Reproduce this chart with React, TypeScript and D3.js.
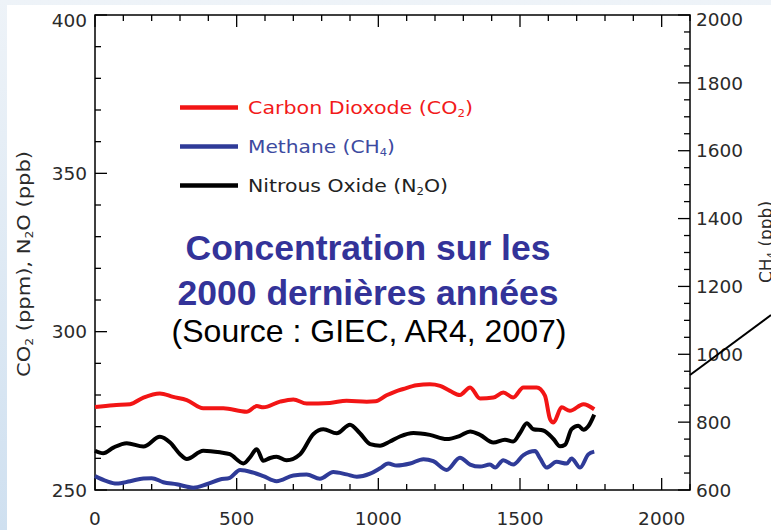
import React from "react";
import * as d3 from "d3";

const W = 771;
const H = 530;

const co2Data: [number, number][] = [
  [0, 276.2], [65, 276.8], [124, 277.1], [171, 279.2], [229, 280.5], [276, 279.4], [324, 278.4],
  [382, 275.8], [453, 275.8], [535, 274.7], [571, 276.5], [594, 276.1], [653, 277.9], [700, 278.6],
  [747, 277.3], [829, 277.5], [888, 278.2], [959, 277.9], [990, 278.0], [1029, 279.9], [1060, 281.1],
  [1088, 281.9], [1135, 283.1], [1182, 283.4], [1218, 282.9], [1253, 281.3], [1288, 280.0],
  [1324, 282.4], [1359, 278.9], [1406, 279.2], [1441, 280.8], [1476, 279.2], [1512, 282.4],
  [1559, 282.4], [1588, 279.8], [1606, 272.4], [1618, 271.3], [1647, 276.1], [1676, 275.0],
  [1724, 277.1], [1762, 275.5],
];

const ch4Data: [number, number][] = [
  [0, 641], [41, 626], [76, 619], [124, 626], [171, 634], [200, 635], [241, 623], [288, 617],
  [347, 607], [394, 617], [441, 631], [476, 636], [512, 659], [559, 651], [594, 641], [641, 626],
  [700, 643], [747, 646], [794, 633], [841, 653], [888, 646], [924, 639], [971, 648], [1006, 664],
  [1035, 678], [1065, 672], [1112, 678], [1159, 691], [1194, 685], [1241, 659], [1288, 695],
  [1324, 675], [1359, 669], [1394, 675], [1412, 666], [1441, 688], [1476, 675], [1512, 703],
  [1553, 715], [1571, 693], [1594, 666], [1629, 683], [1665, 678], [1682, 693], [1712, 666],
  [1741, 705], [1762, 713],
];

const n2oData: [number, number][] = [
  [0, 262.4], [29, 261.6], [65, 263.4], [112, 264.8], [171, 263.7], [229, 266.8], [265, 265.0],
  [300, 261.3], [324, 259.8], [382, 262.4], [441, 261.9], [476, 261.3], [524, 258.4], [547, 260.3],
  [571, 262.9], [594, 259.2], [618, 260.1], [641, 260.5], [676, 259.4], [724, 261.3], [771, 267.7],
  [806, 269.2], [853, 267.9], [900, 270.6], [935, 267.9], [971, 264.5], [1006, 264.0], [1041, 265.3],
  [1076, 266.9], [1124, 268.0], [1182, 267.4], [1241, 266.1], [1288, 267.1], [1324, 268.5],
  [1359, 267.4], [1406, 265.0], [1447, 265.9], [1476, 265.3], [1500, 268.0], [1524, 271.1],
  [1547, 269.2], [1582, 268.8], [1618, 266.1], [1641, 263.8], [1659, 264.3], [1682, 269.2],
  [1706, 270.3], [1724, 269.0], [1741, 270.1], [1762, 273.8],
];

const xMajorTicks = [0, 500, 1000, 1500, 2000];
const leftMajorTicks = [250, 300, 350, 400];
const rightMajorTicks = [600, 800, 1000, 1200, 1400, 1600, 1800, 2000];

const legendItems = [
  { label: "Carbon Dioxode (CO", sub: "2", color: "#f21515", text: "#f21a1a", width: 225 },
  { label: "Methane (CH", sub: "4", color: "#2f3b98", text: "#3d4aa0", width: 147 },
  { label: "Nitrous Oxide (N", sub: "2", tail: "O)", color: "#000000", text: "#222222", width: 200 },
];

const titleLines = ["Concentration sur les", "2000 dernières années"];
const sourceLine = "(Source : GIEC, AR4, 2007)";

const M = { left: 95, right: 690, top: 15, bottom: 490 };
const FONT = "'DejaVu Sans', sans-serif";

export default function App() {
  const x = d3.scaleLinear().domain([0, 2100]).range([M.left, M.right]);
  const yL = d3.scaleLinear().domain([250, 400]).range([M.bottom, M.top]);
  const yR = d3.scaleLinear().domain([600, 2000]).range([M.bottom, M.top]);

  const lineL = d3
    .line<[number, number]>()
    .x((d) => x(d[0]))
    .y((d) => yL(d[1]))
    .curve(d3.curveMonotoneX);
  const lineR = d3
    .line<[number, number]>()
    .x((d) => x(d[0]))
    .y((d) => yR(d[1]))
    .curve(d3.curveMonotoneX);

  const xMinor = d3.range(0, 2101, 100);
  const leftMinor = d3.range(250, 401, 10);
  const rightMinor = d3.range(600, 2001, 50);

  const tickColor = "#000";
  const labelColor = "#2a2a2a";

  return (
    <svg
      width={W}
      height={H}
      style={{ position: "absolute", left: 0, top: 0, display: "block" }}
      xmlns="http://www.w3.org/2000/svg"
    >
      <defs>
        <linearGradient id="bg" x1="0" y1="0" x2="0" y2="1">
          <stop offset="0" stopColor="#eef3f8" />
          <stop offset="1" stopColor="#cfe0f0" />
        </linearGradient>
      </defs>
      <rect x={0} y={0} width={W} height={H} fill="url(#bg)" />
      <rect x={7} y={5} width={W - 7} height={H - 5} fill="#ffffff" />

      {/* frame */}
      <rect
        x={M.left}
        y={M.top}
        width={M.right - M.left}
        height={M.bottom - M.top}
        fill="none"
        stroke={tickColor}
        strokeWidth={1.5}
      />

      {/* x ticks bottom and top */}
      {xMinor.map((t) => {
        const major = xMajorTicks.includes(t);
        const len = major ? 12 : 6;
        return (
          <g key={"x" + t}>
            <line x1={x(t)} x2={x(t)} y1={M.bottom} y2={M.bottom - len} stroke={tickColor} strokeWidth={1.3} />
            <line x1={x(t)} x2={x(t)} y1={M.top} y2={M.top + len} stroke={tickColor} strokeWidth={1.3} />
          </g>
        );
      })}
      {xMajorTicks.map((t) => (
        <text
          key={"xl" + t}
          x={x(t)}
          y={525}
          textAnchor="middle"
          fontFamily={FONT}
          fontSize={18.5}
          fill={labelColor}
        >
          {t}
        </text>
      ))}

      {/* left ticks */}
      {leftMinor.map((t) => {
        const major = leftMajorTicks.includes(t);
        return (
          <line
            key={"l" + t}
            x1={M.left}
            x2={M.left + (major ? 12 : 6)}
            y1={yL(t)}
            y2={yL(t)}
            stroke={tickColor}
            strokeWidth={1.3}
          />
        );
      })}
      {leftMajorTicks.map((t) => (
        <text
          key={"ll" + t}
          x={87}
          y={yL(t) + (t === 400 ? 5 : 0)}
          dy="0.36em"
          textAnchor="end"
          fontFamily={FONT}
          fontSize={18.5}
          fill={labelColor}
        >
          {t}
        </text>
      ))}

      {/* right ticks */}
      {rightMinor.map((t) => {
        const major = rightMajorTicks.includes(t);
        return (
          <line
            key={"r" + t}
            x1={M.right}
            x2={M.right - (major ? 12 : 6)}
            y1={yR(t)}
            y2={yR(t)}
            stroke={tickColor}
            strokeWidth={1.3}
          />
        );
      })}
      {rightMajorTicks.map((t) => (
        <text
          key={"rl" + t}
          x={696}
          y={yR(t) + (t === 2000 ? 4 : 0)}
          dy="0.36em"
          textAnchor="start"
          fontFamily={FONT}
          fontSize={18.5}
          fill={labelColor}
        >
          {t}
        </text>
      ))}

      {/* axis titles */}
      <text
        transform={`translate(30,${264}) rotate(-90)`}
        textAnchor="middle"
        fontFamily={FONT}
        fontSize={17}
        fill={labelColor}
        textLength={226}
        lengthAdjust="spacingAndGlyphs"
      >
        CO<tspan fontSize={10} dy={3}>2</tspan>
        <tspan dy={-3}> (ppm), N</tspan>
        <tspan fontSize={10} dy={3}>2</tspan>
        <tspan dy={-3}>O (ppb)</tspan>
      </text>
      <text
        transform={`translate(772,${242}) rotate(-90)`}
        textAnchor="middle"
        fontFamily={FONT}
        fontSize={17}
        fill={labelColor}
      >
        CH<tspan fontSize={10} dy={3}>4</tspan>
        <tspan dy={-3}> (ppb)</tspan>
      </text>

      {/* data lines */}
      <path d={lineL(co2Data) || ""} fill="none" stroke="#f21515" strokeWidth={4} strokeLinejoin="round" />
      <path d={lineL(n2oData) || ""} fill="none" stroke="#000" strokeWidth={4} strokeLinejoin="round" />
      <path d={lineR(ch4Data) || ""} fill="none" stroke="#2f3b98" strokeWidth={4} strokeLinejoin="round" />

      {/* legend */}
      {legendItems.map((it, i) => {
        const ly = 107.5 + i * 39;
        return (
          <g key={"lg" + i}>
            <line x1={180} x2={238} y1={ly} y2={ly} stroke={it.color} strokeWidth={4.5} />
            <text
              x={248}
              y={ly + 6.5}
              fontFamily={FONT}
              fontSize={17.5}
              fill={it.text}
              textLength={it.width}
              lengthAdjust="spacingAndGlyphs"
            >
              {it.label}
              <tspan fontSize={10} dy={3}>{it.sub}</tspan>
              <tspan dy={-3}>{it.tail || ")"}</tspan>
            </text>
          </g>
        );
      })}

      {/* title */}
      {titleLines.map((t, i) => (
        <text
          key={"t" + i}
          x={368}
          y={260 + i * 45}
          textAnchor="middle"
          fontFamily="'Liberation Sans', Arial, sans-serif"
          fontWeight="bold"
          fontSize={35.5}
          fill="#333399"
        >
          {t}
        </text>
      ))}
      <text
        x={369}
        y={342}
        textAnchor="middle"
        fontFamily="'Liberation Sans', Arial, sans-serif"
        fontSize={32}
        fill="#000"
      >
        {sourceLine}
      </text>

      {/* decorative connector line leaving the chart */}
      <line x1={M.right} y1={375} x2={W} y2={315} stroke="#000" strokeWidth={2} />
    </svg>
  );
}
